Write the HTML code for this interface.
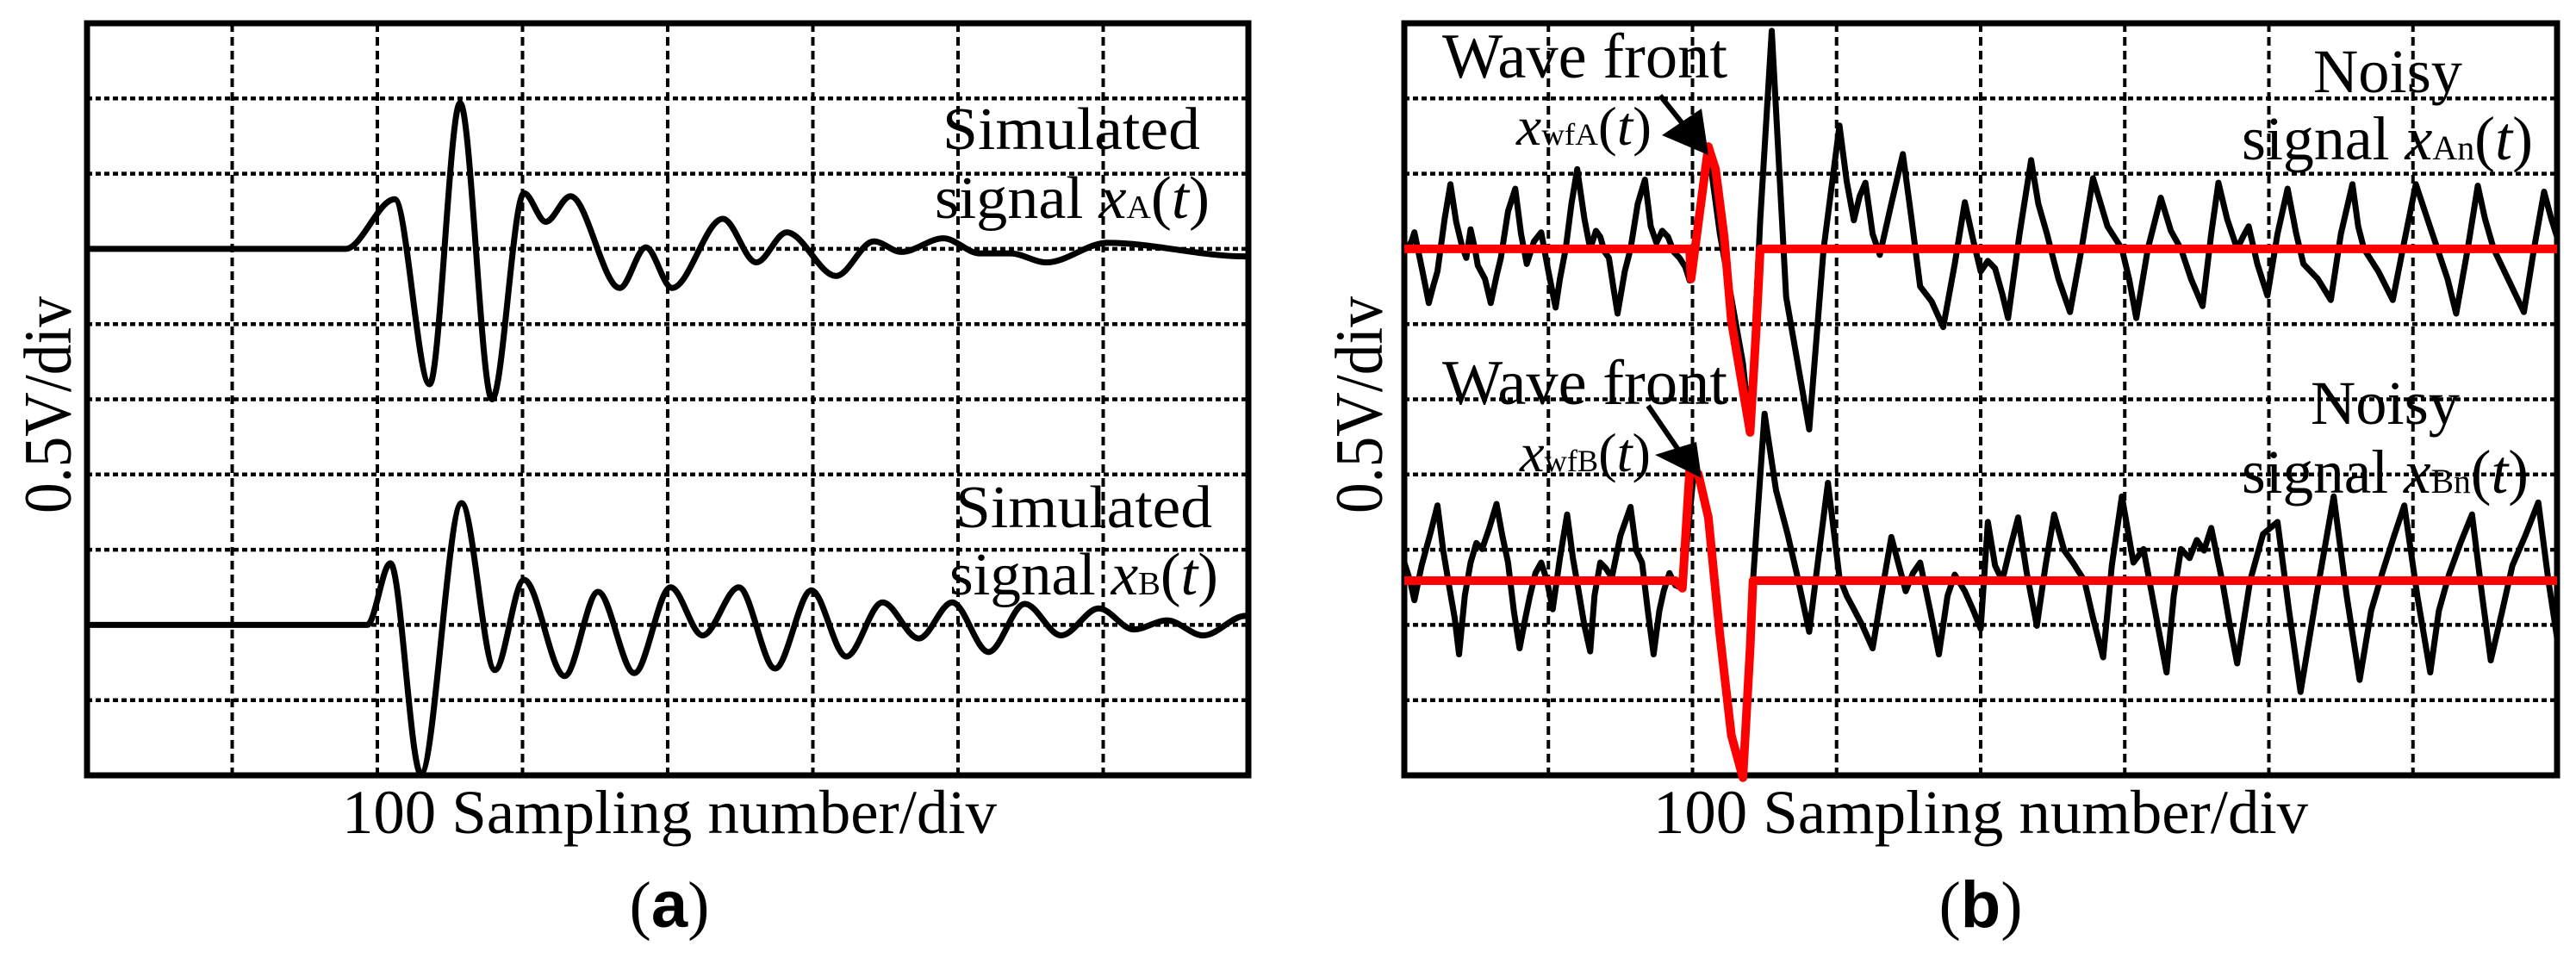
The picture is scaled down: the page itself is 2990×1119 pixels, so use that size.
<!DOCTYPE html>
<html><head><meta charset="utf-8"><style>
html,body{margin:0;padding:0;background:#fff;}
svg{display:block;font-family:"Liberation Serif",serif;}
</style></head><body>
<svg id="fig" width="2990" height="1119" viewBox="0 0 2990 1119" xmlns="http://www.w3.org/2000/svg">
<rect x="0" y="0" width="2990" height="1119" fill="#fff"/>
<g id="panelA"></g>
<g id="panelB"></g>

<!-- Panel a texts -->
<text x="55" y="470" font-size="78" text-anchor="middle" dominant-baseline="central" transform="rotate(-90 55 470)" textLength="252" lengthAdjust="spacingAndGlyphs">0.5V/div</text>
<text x="397" y="967" font-size="72" textLength="760" lengthAdjust="spacingAndGlyphs">100 Sampling number/div</text>
<text x="777" y="1076" font-size="76" text-anchor="middle">(<tspan font-weight="bold" font-family="Liberation Sans, sans-serif">a</tspan>)</text>
<text x="1094" y="173" font-size="70" textLength="299" lengthAdjust="spacingAndGlyphs">Simulated</text>
<text x="1085" y="253" font-size="70" textLength="319" lengthAdjust="spacingAndGlyphs">signal <tspan font-style="italic">x</tspan><tspan font-size="38">A</tspan>(<tspan font-style="italic">t</tspan>)</text>
<text x="1109" y="612" font-size="70" textLength="298" lengthAdjust="spacingAndGlyphs">Simulated</text>
<text x="1102" y="690" font-size="70" textLength="312" lengthAdjust="spacingAndGlyphs">signal <tspan font-style="italic">x</tspan><tspan font-size="38">B</tspan>(<tspan font-style="italic">t</tspan>)</text>

<!-- Panel b texts -->
<text x="1577" y="470" font-size="78" text-anchor="middle" dominant-baseline="central" transform="rotate(-90 1577 470)" textLength="252" lengthAdjust="spacingAndGlyphs">0.5V/div</text>
<text x="1919" y="967" font-size="72" textLength="760" lengthAdjust="spacingAndGlyphs">100 Sampling number/div</text>
<text x="2299" y="1076" font-size="76" text-anchor="middle">(<tspan font-weight="bold" font-family="Liberation Sans, sans-serif">b</tspan>)</text>
<text x="1674" y="90" font-size="74" textLength="331" lengthAdjust="spacingAndGlyphs">Wave front</text>
<text x="1760" y="168" font-size="64" textLength="157" lengthAdjust="spacingAndGlyphs"><tspan font-style="italic">x</tspan><tspan font-size="36">wfA</tspan>(<tspan font-style="italic">t</tspan>)</text>
<text x="1674" y="469" font-size="74" textLength="331" lengthAdjust="spacingAndGlyphs">Wave front</text>
<text x="1764" y="547" font-size="64" textLength="152" lengthAdjust="spacingAndGlyphs"><tspan font-style="italic">x</tspan><tspan font-size="36">wfB</tspan>(<tspan font-style="italic">t</tspan>)</text>
<text x="2685" y="107" font-size="72" textLength="173" lengthAdjust="spacingAndGlyphs">Noisy</text>
<text x="2602" y="185" font-size="72" textLength="338" lengthAdjust="spacingAndGlyphs">signal <tspan font-style="italic">x</tspan><tspan font-size="40">An</tspan>(<tspan font-style="italic">t</tspan>)</text>
<text x="2682" y="492" font-size="72" textLength="173" lengthAdjust="spacingAndGlyphs">Noisy</text>
<text x="2602" y="572" font-size="72" textLength="333" lengthAdjust="spacingAndGlyphs">signal <tspan font-style="italic">x</tspan><tspan font-size="40">Bn</tspan>(<tspan font-style="italic">t</tspan>)</text>

<g>
<line x1="1927" y1="111" x2="1955" y2="146" stroke="#000" stroke-width="6"/>
<polygon points="1983,180 1929,157 1975,126" fill="#000"/>
</g>
<g>
<line x1="1913" y1="471" x2="1948" y2="522" stroke="#000" stroke-width="6"/>
<polygon points="1975,555 1921,528 1969,513" fill="#000"/>
</g>
</svg>
<script>
// ---- Panel (a) data: sample index, volts ----
const simASamples = [0,178,212,236,257,279,301,316,333,367,385,403,438,461,482,516,542,561,590,615,636,661,703,798];
const simAVolts   = [0,0,0.33,-0.90,0.97,-1.00,0.37,0.18,0.35,-0.26,0.01,-0.26,0.20,-0.09,0.11,-0.18,0.05,-0.02,0.07,-0.03,-0.03,-0.09,0.04,-0.05];
const simBSamples = [0,193,209,230,258,281,301,329,352,377,402,424,449,474,499,523,548,573,596,621,646,671,697,721,744,769,798];
const simBVolts   = [0,0,0.41,-0.99,0.81,-0.30,0.30,-0.34,0.22,-0.32,0.25,-0.07,0.25,-0.29,0.23,-0.21,0.15,-0.09,0.15,-0.18,0.14,-0.07,0.11,-0.03,0.03,-0.07,0.06];
// ---- Panel (b) data ----
const noisyASamples = [2,5,7,12,17,20,23,28,32,36,40,43,46,49,51,56,60,64,67,72,77,81,85,90,95,100,105,108,112,116,120,125,129,133,136,139,142,145,148,153,157,162,167,171,175,179,183,187,191,195,198,204,211,219,235,240,247,255,265,281,291,302,307,312,316,320,325,330,338,346,352,358,366,374,382,389,395,400,405,410,415,419,427,435,440,446,454,462,470,478,488,498,503,508,516,525,532,539,546,554,560,565,571,578,582,586,592,599,606,613,619,624,634,643,650,658,662,666,676,686,694,702,710,717,724,730,738,745,750,756,766,777,784,791,796,800];
const noisyAVolts   = [0,0.05,0.11,-0.12,-0.36,-0.25,-0.15,0.2,0.43,0.18,0.02,-0.06,0.13,0.0,-0.11,-0.2,-0.36,-0.18,-0.06,0.25,0.40,0.1,-0.10,0.05,0.11,-0.15,-0.39,-0.2,0,0.3,0.53,0.2,0,0.12,0.08,-0.02,-0.06,-0.25,-0.43,-0.15,0,0.3,0.46,0.15,0.04,0.12,0.08,-0.02,-0.06,-0.12,-0.21,0.19,0.67,0.10,-0.76,-1.22,0.19,1.45,-0.32,-1.20,0.0,0.82,0.45,0.19,0.35,0.44,0.1,-0.04,0.3,0.63,0.2,-0.25,-0.35,-0.52,-0.1,0.31,0.05,-0.15,-0.08,-0.13,-0.3,-0.46,0.1,0.59,0.3,0.10,-0.2,-0.42,0.0,0.47,0.15,0,-0.2,-0.46,0.0,0.34,0.12,0,-0.2,-0.38,0.1,0.44,0.2,0,0.08,0.15,-0.1,-0.31,0.1,0.40,0.1,-0.10,-0.2,-0.34,0.1,0.43,0.15,0,-0.15,-0.34,0.05,0.43,0.2,0,-0.2,-0.43,0.0,0.42,0.2,0,-0.2,-0.42,0.0,0.38,0.2,0.08];
const frontASamples = [0,198,199,211,216,222,227,240,244,246,247,800];
const frontAVolts   = [0,0,-0.20,0.68,0.53,0.08,-0.48,-1.22,-0.57,-0.2,0,0];
const noisyBSamples = [0,4,7,12,18,23,27,31,35,38,42,46,50,54,59,64,68,72,76,80,84,87,91,95,99,103,108,113,117,121,125,129,132,136,140,144,150,157,161,165,169,173,177,180,184,188,193,201,206,211,219,227,235,240,242,250,258,266,273,281,288,294,302,307,312,318,325,331,338,348,353,358,365,371,377,382,389,395,400,405,410,415,420,426,432,439,445,451,458,464,472,478,485,491,498,506,513,521,529,534,539,545,550,555,560,568,573,578,587,596,606,614,622,633,645,654,663,671,679,687,694,703,712,718,725,733,741,748,754,762,769,778,787,794,800];
const noisyBVolts   = [0.12,0.0,-0.13,0.1,0.31,0.50,0.2,-0.03,-0.25,-0.49,-0.1,0.12,0.25,0.21,0.35,0.51,0.3,0.12,-0.2,-0.45,-0.25,-0.11,0.05,0.12,0.0,-0.19,0.15,0.44,0.15,-0.07,-0.3,-0.47,-0.1,0.12,0.08,0.02,0.3,0.49,0.2,0.12,-0.2,-0.49,-0.2,-0.07,0.05,-0.03,-0.05,0.73,0.65,0.42,-0.36,-1.03,-1.31,-0.45,0,1.11,0.6,0.31,0.02,-0.34,0.2,0.65,0.02,-0.1,-0.19,-0.3,-0.45,-0.1,0.29,-0.07,0.05,0.12,-0.2,-0.49,-0.1,0.04,-0.07,-0.2,-0.32,0.39,0.1,0,0.2,0.42,0.05,-0.30,0.1,0.44,0.2,0.12,0,-0.25,-0.51,0.1,0.56,0.12,0.21,-0.2,-0.61,-0.1,0.21,0.15,0.27,0.2,0.35,-0.02,-0.3,-0.55,0.0,0.31,0.39,-0.2,-0.74,-0.1,0.56,-0.1,-0.66,-0.2,0.06,0.3,0.50,-0.1,-0.61,-0.2,0.04,0.25,0.44,-0.1,-0.53,-0.2,0.10,0.3,0.52,0.0,-0.38];
const frontBSamples = [0,188,193,198,204,211,219,227,235,240,242,800];
const frontBVolts   = [0,0,-0.05,0.73,0.71,0.42,-0.36,-1.03,-1.31,-0.45,0,0];

const NS = "http://www.w3.org/2000/svg";
function mk(tag, attrs, parent){const e=document.createElementNS(NS,tag);for(const k in attrs)e.setAttribute(k,attrs[k]);parent.appendChild(e);return e;}

function makePanel(g, left, right, top, bottom){
  const divX=(right-left)/8, divY=(bottom-top)/10;
  const ax={x:s=>left+s/100*divX, y:(v,base)=>top+base*divY - v/0.5*divY};
  for(let i=1;i<8;i++){
    const l=mk('line',{x1:left+i*divX,y1:top,x2:left+i*divX,y2:bottom,stroke:'#000','stroke-width':4,'stroke-dasharray':'10 6'},g);
    
    
  }
  for(let j=1;j<10;j++){
    const l=mk('line',{x1:left,y1:top+j*divY,x2:right,y2:top+j*divY,stroke:'#000','stroke-width':4.5,'stroke-dasharray':'6 4'},g);
    
    
  }
  const f=mk('rect',{x:left,y:top,width:right-left,height:bottom-top,fill:'none',stroke:'#000','stroke-width':7},g);
  
  
  return ax;
}
function smoothPath(ax, xs, vs, base){
  let d='';
  for(let i=0;i<xs.length;i++){
    const x=ax.x(xs[i]), y=ax.y(vs[i],base);
    if(i===0){d+='M'+x+' '+y;continue;}
    const x0=ax.x(xs[i-1]), y0=ax.y(vs[i-1],base), dx=(x-x0)/3;
    d+=' C'+(x0+dx)+' '+y0+' '+(x-dx)+' '+y+' '+x+' '+y;
  }
  return d;
}
function polyPath(ax, xs, vs, base){
  return xs.map((s,i)=>(i?'L':'M')+ax.x(s)+' '+ax.y(vs[i],base)).join(' ');
}
const gA=document.getElementById('panelA');
const axA=makePanel(gA,101,1449,27,900);
const pA=mk('path',{d:smoothPath(axA,simASamples,simAVolts,3),fill:'none',stroke:'#000','stroke-width':7},gA);


const pB=mk('path',{d:smoothPath(axA,simBSamples,simBVolts,8),fill:'none',stroke:'#000','stroke-width':7},gA);



const gB=document.getElementById('panelB');
const axB=makePanel(gB,1630,2968,27,900);
const baseBB=(674-27)/((900-27)/10);
const nA=mk('path',{d:polyPath(axB,noisyASamples,noisyAVolts,3),fill:'none',stroke:'#000','stroke-width':7,'stroke-linejoin':'round'},gB);


const nB=mk('path',{d:polyPath(axB,noisyBSamples,noisyBVolts,baseBB),fill:'none',stroke:'#000','stroke-width':7,'stroke-linejoin':'round'},gB);


const fA=mk('path',{d:polyPath(axB,frontASamples,frontAVolts,3),fill:'none',stroke:'#f00','stroke-width':10,'stroke-linejoin':'round'},gB);


const fB=mk('path',{d:polyPath(axB,frontBSamples,frontBVolts,baseBB),fill:'none',stroke:'#f00','stroke-width':10,'stroke-linejoin':'round'},gB);


</script>
</body></html>
